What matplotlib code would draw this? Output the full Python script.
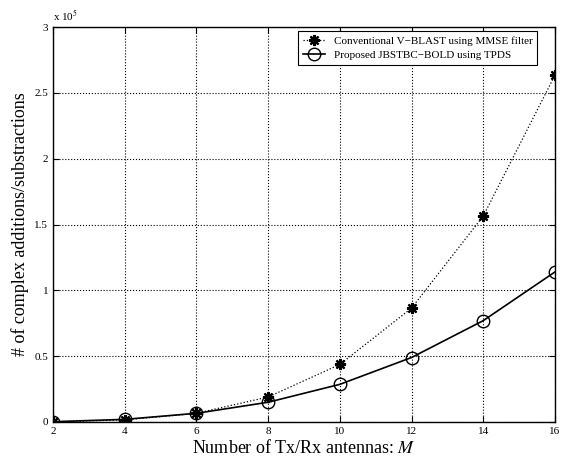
import numpy as np
import matplotlib
matplotlib.use("Agg")
import matplotlib.pyplot as plt

plt.rcParams['font.family'] = ['Liberation Serif', 'DejaVu Serif']
plt.rcParams['mathtext.fontset'] = 'stix'

# values
antennas = [2, 4, 6, 8, 10, 12, 14, 16]
vblast_mmse = [0.001e5, 0.016e5, 0.066e5, 0.19e5, 0.437e5, 0.865e5, 1.565e5, 2.635e5]
proposed_tpds = [0.002e5, 0.02e5, 0.066e5, 0.15e5, 0.286e5, 0.49e5, 0.77e5, 1.14e5]
y_ticks = [0, 0.5e5, 1e5, 1.5e5, 2e5, 2.5e5, 3e5]
y_tick_labels = ['0', '0.5', '1', '1.5', '2', '2.5', '3']

fig = plt.figure(figsize=(5.73, 4.57), dpi=100)
ax = fig.add_axes([0.0925, 0.0766, 0.876, 0.864])

# MATLAB style asterisk marker
ax.plot(antennas, vblast_mmse, ':', color='black', lw=0.9,
        marker=(8, 2, 0), ms=8, mew=1.6, mec='black',
        label='Conventional V\u2212BLAST using MMSE filter')
ax.plot(antennas, proposed_tpds, '-', color='black', lw=1.2,
        marker='o', ms=9, mfc='none', mec='black',
        label='Proposed JBSTBC\u2212BOLD using TPDS')

ax.set_xlim(2, 16)
ax.set_ylim(0, 3e5)
ax.set_xticks(antennas)
ax.set_yticks(y_ticks)
ax.set_yticklabels(y_tick_labels)
ax.tick_params(direction='in', labelsize=8, top=True, right=True, length=4)
ax.grid(True, linestyle=':', color='black', linewidth=0.8)
for s in ax.spines.values():
    s.set_linewidth(1.0)

ax.text(0.0, 1.01, 'x 10$^5$', transform=ax.transAxes, fontsize=8,
        ha='left', va='bottom')

ax.set_xlabel('Number of Tx/Rx antennas: $M$', fontsize=13, labelpad=2)
ax.set_ylabel('# of complex additions/substractions', fontsize=13, labelpad=4)

leg = ax.legend(loc='upper right', bbox_to_anchor=(0.965, 0.99), fontsize=8,
                frameon=True, fancybox=False, edgecolor='black',
                borderaxespad=0.0, handlelength=2.0, borderpad=0.45,
                labelspacing=0.35, framealpha=1)
leg.get_frame().set_linewidth(0.8)

fig.savefig('out.png', dpi=100)
